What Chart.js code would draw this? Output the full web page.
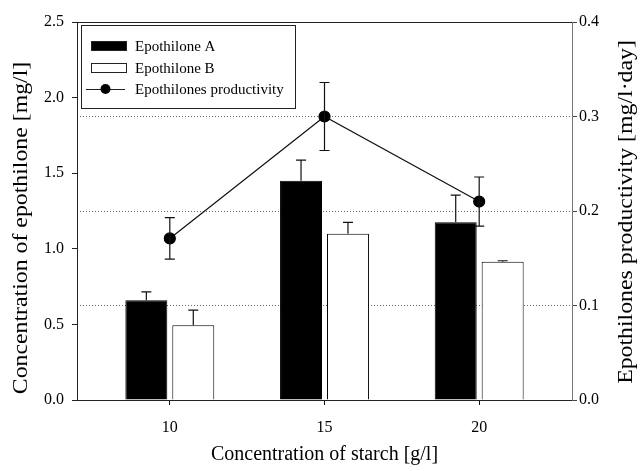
<!DOCTYPE html>
<html>
<head>
<meta charset="utf-8">
<script src="https://cdn.jsdelivr.net/npm/chart.js@4/dist/chart.umd.min.js"></script>
<style>
  body { margin: 0; background: #fff; }
  #wrap { width: 643px; height: 471px; }
</style>
</head>
<body>
<div id="wrap"><canvas id="epoChart" width="643" height="471"></canvas></div>
<script>
// starch concentrations (g/l)
const starch = [10, 15, 20];
// epothilone concentrations (mg/l) with one-sided error bars
const epoA = [0.66, 1.45, 1.175];
const epoAErr = [0.055, 0.137, 0.18];
const epoB = [0.495, 1.10, 0.915];
const epoBErr = [0.10, 0.075, 0.006];
// productivity (mg/l.day) with +/- error bars
const productivity = [0.171, 0.300, 0.210];
const productivityErr = [0.022, 0.036, 0.026];

const leftTicks = [0, 0.5, 1.0, 1.5, 2.0, 2.5];
const rightTicks = [0, 0.1, 0.2, 0.3, 0.4];

const leftTitle = 'Concentration of epothilone [mg/l]';
const rightTitle = 'Epothilones productivity [mg/l\u00b7day]';

const serif = "'Liberation Serif', 'DejaVu Serif', serif";

function toPoints(xs, ys) {
    return xs.map((x, i) => ({ x: x, y: ys[i] }));
}

// error bars drawn through the scales
const errorBars = {
    id: 'errorBars',
    afterDatasetsDraw(chart) {
        let ctx = chart.ctx;
        ctx.save();
        ctx.strokeStyle = '#111';
        ctx.lineWidth = 1.2;
        chart.data.datasets.forEach((ds, di) => {
            if (!ds.errors) return;
            let meta = chart.getDatasetMeta(di);
            let yScale = chart.scales[ds.yAxisID];
            meta.data.forEach((el, i) => {
                let v = ds.data[i].y;
                let e = ds.errors[i];
                let x = el.x;
                let top = yScale.getPixelForValue(v + e);
                let bottom = ds.type === 'line' ? yScale.getPixelForValue(v - e) : yScale.getPixelForValue(v);
                ctx.beginPath();
                ctx.moveTo(x, top);
                ctx.lineTo(x, bottom);
                ctx.moveTo(x - 5, top);
                ctx.lineTo(x + 5, top);
                if (ds.type === 'line') {
                    ctx.moveTo(x - 5, bottom);
                    ctx.lineTo(x + 5, bottom);
                }
                ctx.stroke();
            });
        });
        ctx.restore();
    }
};

// frame on top, boxed legend, and the two vertical axis titles (both read bottom to top)
const frameLegend = {
    id: 'frameLegend',
    afterDraw(chart) {
        let ctx = chart.ctx;
        let a = chart.chartArea;
        ctx.save();
        ctx.strokeStyle = '#222';
        ctx.lineWidth = 1;
        ctx.beginPath();
        ctx.moveTo(a.left, a.top + 0.5);
        ctx.lineTo(a.right, a.top + 0.5);
        ctx.stroke();

        let bx = a.left + 4.5, by = a.top + 3.5;
        ctx.fillStyle = '#fff';
        ctx.fillRect(bx, by, 214, 83);
        ctx.strokeRect(bx, by, 214, 83);

        ctx.font = '15px ' + serif;
        ctx.textBaseline = 'middle';
        let sx = a.left + 14, tx = a.left + 58;
        let rows = [a.top + 24, a.top + 46, a.top + 67];
        chart.data.datasets.forEach((ds) => {
            let ry = rows[ds.legendRow];
            if (ds.type === 'line') {
                ctx.beginPath();
                ctx.moveTo(sx - 5, ry + 0.5);
                ctx.lineTo(sx + 34, ry + 0.5);
                ctx.stroke();
                ctx.beginPath();
                ctx.arc(sx + 14.5, ry, 5, 0, Math.PI * 2);
                ctx.fillStyle = '#000';
                ctx.fill();
            } else {
                ctx.fillStyle = ds.backgroundColor;
                ctx.fillRect(sx + 0.5, ry - 4.5, 35, 9);
                ctx.strokeRect(sx + 0.5, ry - 4.5, 35, 9);
            }
            ctx.fillStyle = '#000';
            ctx.fillText(ds.label, tx, ry + 1);
        });

        // vertical titles, a bit stretched along the text like in the scan
        ctx.font = '20px ' + serif;
        ctx.textAlign = 'center';
        ctx.textBaseline = 'middle';
        ctx.fillStyle = '#000';
        let mid = (a.top + a.bottom) / 2;
        [[leftTitle, a.left - 55, mid + 17], [rightTitle, a.right + 55, mid + 1]].forEach(([t, x, y]) => {
            ctx.save();
            ctx.translate(x, y);
            ctx.rotate(-Math.PI / 2);
            ctx.scale(1.19, 1);
            ctx.fillText(t, 0, 0);
            ctx.restore();
        });
        ctx.restore();
    }
};

let ctx = document.getElementById('epoChart').getContext('2d');

let chart = new Chart(ctx, {
    data: {
        datasets: [{
            type: 'line',
            label: 'Epothilones productivity',
            data: toPoints(starch, productivity),
            errors: productivityErr,
            legendRow: 2,
            yAxisID: 'y1',
            borderColor: '#111',
            borderWidth: 1.2,
            pointRadius: 5.5,
            pointBackgroundColor: '#000',
            pointBorderColor: '#000',
            order: 0
        }, {
            type: 'bar',
            label: 'Epothilone A',
            data: toPoints(starch, epoA),
            errors: epoAErr,
            legendRow: 0,
            yAxisID: 'y',
            backgroundColor: '#000',
            borderColor: '#000',
            borderWidth: 1,
            categoryPercentage: 0.607,
            barPercentage: 0.894,
            order: 1
        }, {
            type: 'bar',
            label: 'Epothilone B',
            data: toPoints(starch, epoB),
            errors: epoBErr,
            legendRow: 1,
            yAxisID: 'y',
            backgroundColor: '#fff',
            borderColor: '#000',
            borderWidth: 1,
            categoryPercentage: 0.607,
            barPercentage: 0.894,
            order: 1
        }]
    },
    options: {
        responsive: false,
        animation: false,
        layout: { padding: { top: 22, left: 0, right: 0, bottom: 0 } },
        plugins: {
            legend: { display: false },
            tooltip: { enabled: false }
        },
        scales: {
            x: {
                type: 'linear',
                min: 7,
                max: 23,
                offset: false,
                afterBuildTicks: (scale) => { scale.ticks = starch.map(v => ({ value: v })); },
                afterFit: (scale) => { scale.height = 71; },
                border: { color: '#222', width: 1 },
                grid: { offset: false, drawOnChartArea: false, tickLength: 5, tickColor: '#111', tickWidth: 1 },
                ticks: { color: '#000', font: { family: serif, size: 16 }, padding: 13, maxRotation: 0 },
                title: {
                    display: true,
                    text: 'Concentration of starch [g/l]',
                    color: '#000',
                    font: { family: serif, size: 20 },
                    padding: { top: 0 }
                }
            },
            y: {
                position: 'left',
                min: 0,
                max: 2.5,
                afterBuildTicks: (scale) => { scale.ticks = leftTicks.map(v => ({ value: v })); },
                afterFit: (scale) => { scale.width = 77; },
                border: { color: '#222', width: 1 },
                grid: { drawOnChartArea: false, tickLength: 5, tickColor: '#222' },
                ticks: {
                    color: '#000',
                    font: { family: serif, size: 16 },
                    padding: 8,
                    callback: (v) => Number(v).toFixed(1)
                }
            },
            y1: {
                position: 'right',
                min: 0,
                max: 0.4,
                afterBuildTicks: (scale) => { scale.ticks = rightTicks.map(v => ({ value: v })); },
                afterFit: (scale) => { scale.width = 71; },
                border: { color: '#777', width: 1, dash: [1, 2] },
                grid: {
                    drawOnChartArea: true,
                    color: (c) => (c.tick && (c.tick.value === 0 || c.tick.value === 0.4)) ? 'rgba(0,0,0,0)' : '#666',
                    lineWidth: 1,
                    tickLength: 5,
                    tickColor: '#444',
                    tickBorderDash: []
                },
                ticks: {
                    color: '#000',
                    font: { family: serif, size: 16 },
                    padding: 2,
                    callback: (v) => Number(v).toFixed(1)
                }
            }
        }
    },
    plugins: [errorBars, frameLegend]
});
</script>
</body>
</html>
